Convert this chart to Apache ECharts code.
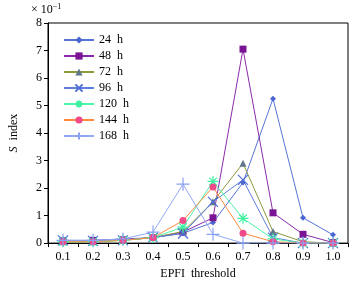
<!DOCTYPE html>
<html>
<head>
<meta charset="utf-8">
<script src="https://cdn.jsdelivr.net/npm/echarts@6/dist/echarts.min.js"></script>
<style>
  html, body { margin: 0; padding: 0; background: #fff; }
  #chart { width: 355px; height: 285px; }
</style>
</head>
<body>
<div id="chart"></div>
<script>
// EPFI threshold categories
var thresholds = ['0.1', '0.2', '0.3', '0.4', '0.5', '0.6', '0.7', '0.8', '0.9', '1.0'];
var yTicks = [0, 1, 2, 3, 4, 5, 6, 7, 8];

// S index (x 10^-1) for each time window
var s24 = [0.1, 0.1, 0.15, 0.2, 0.36, 0.75, 2.2, 5.25, 0.92, 0.3];
var s48 = [0.08, 0.1, 0.12, 0.2, 0.4, 0.92, 7.05, 1.1, 0.32, 0.02];
var s72 = [0.05, 0.05, 0.1, 0.2, 0.42, 1.5, 2.9, 0.42, 0.05, 0.0];
var s96 = [0.1, 0.08, 0.1, 0.2, 0.35, 1.5, 2.3, 0.2, 0.0, 0.0];
var s120 = [0.05, 0.05, 0.1, 0.2, 0.58, 2.24, 0.9, 0.15, 0.0, 0.0];
var s144 = [0.05, 0.05, 0.1, 0.2, 0.82, 2.04, 0.36, 0.05, 0.0, 0.0];
var s168 = [0.1, 0.1, 0.15, 0.4, 2.14, 0.32, 0.0, 0.0, 0.0, 0.0];

var FONT = 'Liberation Serif';

var crossPath = 'path://M0,0L10,10M10,0L0,10';
var plusPath = 'path://M5,0L5,10M0,5L10,5';
var starPath = 'path://M1.5,1.5L8.5,8.5M8.5,1.5L1.5,8.5M5,0L5,10M0,5L10,5';

function mkSeries(name, data, lineColor, markColor, symbol, size, stroke) {
  var s = {
    name: name,
    type: 'line',
    data: data,
    symbol: symbol,
    symbolSize: size,
    lineStyle: { color: lineColor, width: 1 },
    itemStyle: { color: markColor },
    emphasis: { disabled: true }
  };
  if (stroke) {
    s.itemStyle.borderColor = markColor;
    s.itemStyle.borderWidth = 1.2;
  }
  return s;
}

var chart = echarts.init(document.getElementById('chart'), null, { renderer: 'canvas' });

chart.setOption({
  animation: false,
  textStyle: { fontFamily: FONT },
  grid: {
    left: 41, top: 23, right: 7, bottom: 38,
    show: true, borderColor: '#000', borderWidth: 1
  },
  legend: {
    orient: 'vertical',
    left: 58, top: 29,
    itemWidth: 30, itemHeight: 9,
    itemGap: 4,
    textStyle: { fontFamily: FONT, fontSize: 12, color: '#000' },
    data: ['24  h', '48  h', '72  h', '96  h', '120  h', '144  h', '168  h']
  },
  xAxis: {
    type: 'category',
    data: thresholds,
    boundaryGap: true,
    name: 'EPFI  threshold',
    nameLocation: 'middle',
    nameGap: 24,
    nameTextStyle: { fontFamily: FONT, fontSize: 12, color: '#000' },
    axisLine: { lineStyle: { color: '#000', width: 1 } },
    axisTick: { show: true, alignWithLabel: false, length: 4, lineStyle: { color: '#000' } },
    axisLabel: { fontFamily: FONT, fontSize: 12, color: '#000', margin: 8 },
    splitLine: { show: false }
  },
  yAxis: {
    type: 'value',
    min: yTicks[0], max: yTicks[yTicks.length - 1], interval: 1,
    name: '{i|S}  index',
    nameLocation: 'middle',
    nameGap: 28,
    nameRotate: 90,
    nameTextStyle: {
      fontFamily: FONT, fontSize: 12, color: '#000',
      rich: { i: { fontFamily: FONT, fontSize: 12, fontStyle: 'italic', color: '#000' } }
    },
    axisLine: { show: true, lineStyle: { color: '#000', width: 1 } },
    axisTick: { show: true, length: 4, lineStyle: { color: '#000' } },
    axisLabel: { fontFamily: FONT, fontSize: 12, color: '#000', margin: 6 },
    splitLine: { show: false }
  },
  graphic: [{
    type: 'text',
    left: 31, top: 3,
    style: {
      text: '\u00d7 10{s|\u22121}',
      fontFamily: FONT, fontSize: 12, fill: '#000',
      rich: { s: { fontFamily: FONT, fontSize: 8, verticalAlign: 'top', padding: [0, 0, 6, 0] } }
    }
  }],
  series: [
    mkSeries('24  h', s24, '#5673d6', '#4a66d0', 'diamond', 6),
    mkSeries('48  h', s48, '#8a2aa8', '#7a1494', 'rect', 7),
    mkSeries('72  h', s72, '#8c9a3a', '#5f7688', 'triangle', 7),
    mkSeries('96  h', s96, '#5f7fdc', '#4e6ed8', crossPath, 10, true),
    mkSeries('120  h', s120, '#4df5a8', '#3ff0a0', starPath, 11, true),
    mkSeries('144  h', s144, '#ff8a3d', '#f04a8a', 'circle', 7),
    mkSeries('168  h', s168, '#92a8f2', '#8aa2f0', plusPath, 13, true)
  ]
});
</script>
</body>
</html>
